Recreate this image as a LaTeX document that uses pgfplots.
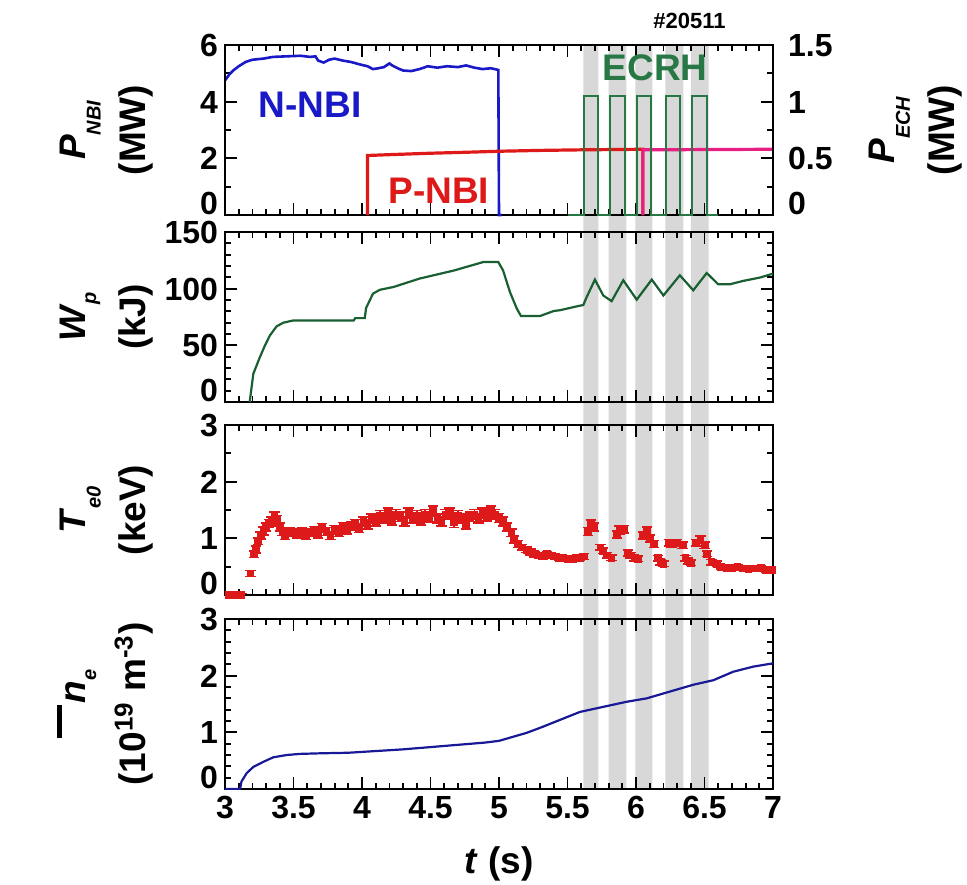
\documentclass[border=0pt]{standalone}
\usepackage{pgfplots}
\pgfplotsset{compat=1.18}
\usepackage{fontspec}
\setmainfont{Liberation Sans}
\definecolor{nblue}{RGB}{25,25,200}
\definecolor{nred}{RGB}{222,25,25}
\definecolor{nmag}{RGB}{232,30,130}
\definecolor{ngreen}{RGB}{40,120,70}
\definecolor{wgreen}{RGB}{25,95,50}
\definecolor{neblue}{RGB}{25,25,150}
\definecolor{bandgray}{RGB}{216,216,216}
\newcommand{\sub}[2][0.42em]{\raisebox{-#1}{\fontsize{10}{10}\selectfont\textit{#2}}}
\begin{document}
\begin{tikzpicture}
\path[use as bounding box] (0pt,0pt) rectangle (483.5pt,-442pt);
\pgfplotsset{panel/.style={anchor=north west, width=274pt, height=85pt, scale only axis,
  xmin=3, xmax=7, xtick={3,3.5,...,7}, minor x tick num=4,
  tick align=inside, major tick length=6pt, minor tick length=3pt,
  every tick/.style={black, line width=0.9pt}, axis line style={line width=1pt},
  tick label style={font=\bfseries\fontsize{16}{16}\selectfont},
  yticklabel style={text height=11.5pt, text depth=0pt, inner ysep=0.5pt},
  yticklabel={\ifnum\ticknum=0\relax\raisebox{6pt}{\pgfmathprintnumber{\tick}}\else\pgfmathprintnumber{\tick}\fi},
  /pgf/number format/assume math mode=true,
  label style={font=\bfseries\fontsize{18.5}{30}\selectfont},
  ylabel style={at={(axis description cs:-0.119,0.5)}, anchor=south, align=center}}}

% ECRH shaded intervals
\begin{axis}[at={(112.5pt,-22.5pt)}, anchor=north west, width=274pt, height=372pt, scale only axis,
  xmin=3, xmax=7, ymin=0, ymax=1, hide axis]
\addplot[fill=bandgray, draw=none] coordinates {(5.615,0)(5.615,1)(5.725,1)(5.725,0)} \closedcycle;
\addplot[fill=bandgray, draw=none] coordinates {(5.800,0)(5.800,1)(5.930,1)(5.930,0)} \closedcycle;
\addplot[fill=bandgray, draw=none] coordinates {(5.995,0)(5.995,1)(6.120,1)(6.120,0)} \closedcycle;
\addplot[fill=bandgray, draw=none] coordinates {(6.215,0)(6.215,1)(6.345,1)(6.345,0)} \closedcycle;
\addplot[fill=bandgray, draw=none] coordinates {(6.400,0)(6.400,1)(6.530,1)(6.530,0)} \closedcycle;
\end{axis}

% Panel 1: P_NBI
\begin{axis}[panel, at={(112.5pt,-22.5pt)}, ymin=0, ymax=6, ytick={0,2,4,6}, minor ytick={1,3,5},
  ytick pos=left, xticklabels={}, clip=false,
  ylabel={\textit{P}\sub{NBI}\\(MW)}]
\addplot[nblue, line width=1.3pt] coordinates {(3.0,4.75)(3.03,4.95)(3.06,5.1)(3.1,5.25)(3.15,5.4)(3.2,5.48)(3.28,5.52)(3.35,5.58)(3.45,5.6)(3.55,5.62)(3.62,5.58)(3.66,5.6)(3.68,5.45)(3.72,5.38)(3.76,5.48)(3.8,5.52)(3.86,5.45)(3.92,5.4)(3.98,5.32)(4.04,5.25)(4.08,5.15)(4.12,5.18)(4.16,5.22)(4.2,5.35)(4.22,5.28)(4.26,5.18)(4.3,5.1)(4.36,5.08)(4.42,5.15)(4.48,5.25)(4.55,5.2)(4.62,5.25)(4.7,5.22)(4.76,5.28)(4.82,5.2)(4.88,5.15)(4.94,5.18)(4.995,5.12)(5.0,0)(5.02,0)};
\addplot[nred, line width=1.6pt] coordinates {(4.04,0)(4.04,2.1)(4.2,2.13)(4.5,2.18)(4.8,2.22)(5.0,2.25)(5.3,2.28)(5.6,2.3)(6.05,2.32)(6.05,0)};
\addplot[nmag, line width=1.6pt] coordinates {(6.05,0)(6.05,2.3)(7.0,2.32)};
\node[font=\bfseries\fontsize{18.5}{18.5}\selectfont, text=nblue] at (axis cs:3.62,3.88) {N-NBI};
\node[font=\bfseries\fontsize{18.5}{18.5}\selectfont, text=nred] at (axis cs:4.56,0.85) {P-NBI};
\node[font=\bfseries\fontsize{18.5}{18.5}\selectfont, text=ngreen] at (axis cs:6.14,5.2) {ECRH};
\node[font=\bfseries\fontsize{11}{11}\selectfont] at (axis cs:6.39,6.85) {\#20511};
\end{axis}
\begin{axis}[panel, at={(112.5pt,-22.5pt)}, ymin=0, ymax=1.5, ytick={0,0.5,1,1.5}, minor ytick={0.25,0.75,1.25},
  ytick pos=right, yticklabel pos=right, hide x axis,
  yticklabel style={xshift=4pt},
  ylabel={\textit{P}\sub{ECH}\\(MW)},
  ylabel style={at={(axis description cs:1.162,0.5)}, anchor=north}]
\addplot[ngreen, line width=1pt] coordinates {(5.5,0)(5.62,0)(5.62,1.05)(5.72,1.05)(5.72,0)(5.81,0)(5.81,1.05)(5.92,1.05)(5.92,0)(6.01,0)(6.01,1.05)(6.11,1.05)(6.11,0)(6.22,0)(6.22,1.05)(6.32,1.05)(6.32,0)(6.41,0)(6.41,1.05)(6.52,1.05)(6.52,0)(6.6,0)};
\end{axis}

% Panel 2: W_p
\begin{axis}[panel, at={(112.5pt,-116pt)}, ymin=0, ymax=150, ytick={0,50,100,150}, minor y tick num=4,
  xticklabels={}, ylabel={\textit{W}\sub[0.3em]{p}\\(kJ)}]
\addplot[wgreen, line width=1.1pt] coordinates {(3.18,0)(3.207,25)(3.255,39.7)(3.292,50)(3.328,58.8)(3.377,66.8)(3.426,70)(3.5,72)(3.94,72)(3.95,74)(4.02,74)(4.03,83)(4.08,95.6)(4.13,99)(4.23,101.5)(4.42,108.9)(4.67,116)(4.885,123.5)(4.995,123.5)(5.03,116)(5.08,97)(5.13,82.4)(5.16,75.9)(5.30,75.9)(5.40,80.3)(5.445,81)(5.59,85)(5.615,85.5)(5.64,92.6)(5.70,108)(5.761,94)(5.822,89)(5.907,107.4)(6.005,90.3)(6.115,108)(6.2,94)(6.32,111.8)(6.418,98.6)(6.516,113.8)(6.6,103.9)(6.686,103.9)(6.78,106.8)(6.905,109.8)(7.0,113.3)};
\end{axis}

% Panel 3: T_e0
\begin{axis}[panel, at={(112.5pt,-212.5pt)}, ymin=0, ymax=3, ytick={0,1,2,3}, minor y tick num=1,
  xticklabels={}, ylabel={\textit{T}\sub{e0}\\(keV)}]
\addplot[nred, only marks, mark=square*, mark size=1.7pt,
  error bars/.cd, y dir=both, y explicit,
  error bar style={nred, line width=0.8pt},
  error mark options={rotate=90, mark size=2.6pt, line width=0.8pt, nred}]
  table[x=t, y=T, y error=e] {
t T e
3.03 0.0 0.03
3.06 0.0 0.03
3.09 0.0 0.03
3.12 0.0 0.03
3.185 0.38 0.05
3.21 0.72 0.06
3.225 0.80 0.06
3.24 0.95 0.06
3.26 1.05 0.06
3.28 1.13 0.07
3.30 1.20 0.07
3.32 1.26 0.07
3.34 1.30 0.08
3.36 1.38 0.08
3.38 1.32 0.08
3.40 1.20 0.07
3.42 1.12 0.07
3.44 1.05 0.07
3.47 1.12 0.07
3.50 1.10 0.07
3.53 1.08 0.07
3.56 1.12 0.07
3.59 1.05 0.07
3.62 1.10 0.07
3.65 1.14 0.07
3.68 1.08 0.07
3.71 1.18 0.08
3.74 1.12 0.07
3.77 1.05 0.07
3.80 1.15 0.08
3.83 1.10 0.07
3.86 1.20 0.08
3.89 1.15 0.07
3.92 1.22 0.08
3.95 1.25 0.08
3.98 1.18 0.08
4.01 1.30 0.08
4.04 1.25 0.08
4.07 1.35 0.08
4.10 1.30 0.08
4.13 1.40 0.09
4.16 1.35 0.08
4.19 1.45 0.09
4.22 1.32 0.08
4.25 1.42 0.09
4.28 1.38 0.08
4.31 1.30 0.08
4.34 1.45 0.09
4.37 1.35 0.08
4.40 1.40 0.09
4.43 1.32 0.08
4.46 1.42 0.09
4.49 1.38 0.09
4.52 1.48 0.09
4.55 1.35 0.08
4.58 1.30 0.08
4.61 1.42 0.09
4.64 1.45 0.09
4.67 1.28 0.09
4.70 1.40 0.09
4.73 1.35 0.08
4.76 1.25 0.09
4.79 1.38 0.08
4.82 1.42 0.09
4.85 1.35 0.08
4.88 1.45 0.09
4.91 1.40 0.09
4.94 1.48 0.09
4.97 1.42 0.09
5.00 1.36 0.08
5.03 1.30 0.08
5.06 1.20 0.07
5.09 1.10 0.07
5.11 0.98 0.06
5.14 0.90 0.06
5.17 0.84 0.05
5.20 0.80 0.05
5.23 0.76 0.05
5.26 0.72 0.05
5.29 0.70 0.05
5.32 0.68 0.05
5.35 0.72 0.05
5.38 0.70 0.05
5.41 0.68 0.05
5.44 0.66 0.05
5.47 0.65 0.05
5.50 0.64 0.05
5.53 0.63 0.05
5.56 0.65 0.05
5.59 0.66 0.05
5.62 0.68 0.05
5.65 1.12 0.07
5.67 1.25 0.07
5.69 1.20 0.07
5.74 0.84 0.05
5.76 0.78 0.05
5.79 0.70 0.05
5.82 0.66 0.05
5.86 1.07 0.06
5.88 1.15 0.07
5.91 1.16 0.07
5.94 0.74 0.05
5.96 0.70 0.05
5.99 0.65 0.05
6.015 0.64 0.05
6.05 1.05 0.06
6.08 1.13 0.07
6.10 1.00 0.06
6.13 0.90 0.06
6.16 0.65 0.05
6.18 0.58 0.05
6.20 0.55 0.05
6.24 0.92 0.06
6.26 0.90 0.06
6.30 0.92 0.06
6.34 0.88 0.06
6.36 0.65 0.05
6.38 0.60 0.05
6.40 0.57 0.05
6.44 0.92 0.06
6.47 0.98 0.06
6.50 0.88 0.06
6.52 0.73 0.05
6.55 0.58 0.05
6.59 0.55 0.05
6.62 0.50 0.04
6.66 0.48 0.04
6.70 0.48 0.04
6.74 0.49 0.04
6.78 0.47 0.04
6.82 0.46 0.04
6.87 0.47 0.04
6.91 0.48 0.04
6.95 0.45 0.04
6.99 0.45 0.04
};
\end{axis}

% Panel 4: n_e
\begin{axis}[panel, at={(112.5pt,-309.5pt)}, ymin=0, ymax=3, ytick={0,1,2,3}, minor y tick num=4,
  ylabel={\raisebox{0.62em}{\rule{0.9em}{0.14em}}\kern0.05em\textit{n}\sub[0.3em]{e}\\(10\textsuperscript{19} m\textsuperscript{-3})},
  xlabel={\textit{t} (s)},
  xlabel style={at={(axis description cs:0.5,-0.3)}, anchor=north}]
\addplot[neblue, line width=1.1pt] coordinates {(3.0,0.0)(3.11,0.0)(3.12,0.13)(3.158,0.28)(3.207,0.39)(3.28,0.48)(3.353,0.56)(3.45,0.60)(3.547,0.62)(3.693,0.63)(3.9,0.64)(4.1,0.67)(4.3,0.70)(4.5,0.74)(4.7,0.78)(4.9,0.82)(5.0,0.85)(5.1,0.92)(5.2,0.99)(5.3,1.08)(5.445,1.22)(5.59,1.36)(5.761,1.45)(5.932,1.54)(6.078,1.60)(6.248,1.72)(6.418,1.84)(6.564,1.92)(6.71,2.07)(6.856,2.16)(6.98,2.21)(7.0,2.22)};
\end{axis}
\end{tikzpicture}
\end{document}
